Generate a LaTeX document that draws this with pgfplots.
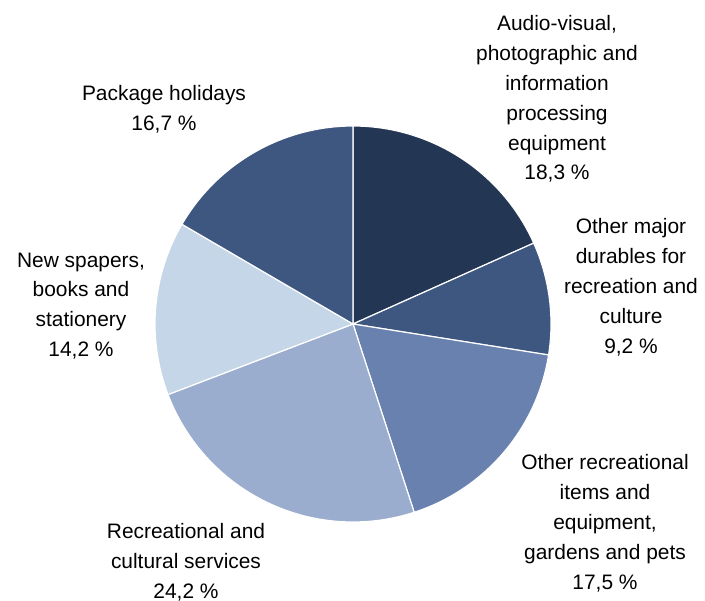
\documentclass[border=0pt]{standalone}
\usepackage{pgfplots}
\pgfplotsset{compat=1.18}
\usepackage{fontspec}
\setmainfont{Liberation Sans}
\definecolor{cA}{HTML}{233654}
\definecolor{cB}{HTML}{3E5780}
\definecolor{cC}{HTML}{6981AF}
\definecolor{cD}{HTML}{9AADCE}
\definecolor{cE}{HTML}{C5D6E8}
\definecolor{cF}{HTML}{3E5780}
\begin{document}
\begin{tikzpicture}
\begin{axis}[scale only axis, width=705bp, height=601bp,
  xmin=0, xmax=705, ymin=0, ymax=601, hide axis, clip=false]
% shares (%): 18.3, 9.2, 17.5, 24.2, 14.2, 16.7 -> clockwise from 90 deg, 3.6 deg per %
\addplot[fill=cA, draw=white, line width=1.2pt, domain=24.12:90, samples=60] ({353+198*cos(x)},{277+198*sin(x)}) -- (axis cs:353,277) -- cycle;
\addplot[fill=cB, draw=white, line width=1.2pt, domain=-9.0:24.12, samples=40] ({353+198*cos(x)},{277+198*sin(x)}) -- (axis cs:353,277) -- cycle;
\addplot[fill=cC, draw=white, line width=1.2pt, domain=-72:-9.0, samples=60] ({353+198*cos(x)},{277+198*sin(x)}) -- (axis cs:353,277) -- cycle;
\addplot[fill=cD, draw=white, line width=1.2pt, domain=-159.12:-72, samples=80] ({353+198*cos(x)},{277+198*sin(x)}) -- (axis cs:353,277) -- cycle;
\addplot[fill=cE, draw=white, line width=1.2pt, domain=-210.24:-159.12, samples=50] ({353+198*cos(x)},{277+198*sin(x)}) -- (axis cs:353,277) -- cycle;
\addplot[fill=cF, draw=white, line width=1.2pt, domain=-270:-210.24, samples=60] ({353+198*cos(x)},{277+198*sin(x)}) -- (axis cs:353,277) -- cycle;
\path (axis cs:0,0) rectangle (axis cs:705,601);
\tikzset{lbl/.style={align=center, font=\fontsize{21}{30}\selectfont, inner sep=0pt}}
\node[lbl] at (axis cs:557,502) {Audio-visual,\\photographic and\\information\\processing\\equipment\\18,3 \%};
\node[lbl] at (axis cs:164,492) {Package holidays\\16,7 \%};
\node[lbl] at (axis cs:81,295) {New spapers,\\books and\\stationery\\14,2 \%};
\node[lbl] at (axis cs:631,314) {Other major\\durables for\\recreation and\\culture\\9,2 \%};
\node[lbl] at (axis cs:605,78) {Other recreational\\items and\\equipment,\\gardens and pets\\17,5 \%};
\node[lbl] at (axis cs:186,39) {Recreational and\\cultural services\\24,2 \%};
\end{axis}
\end{tikzpicture}
\end{document}
